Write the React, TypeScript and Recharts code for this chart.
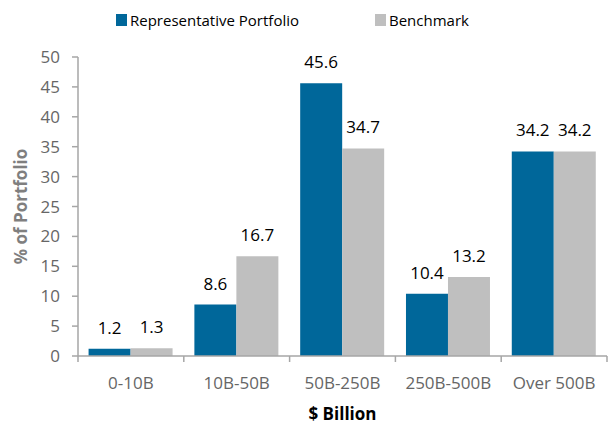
import React from 'react';
import { BarChart, Bar, XAxis, YAxis, LabelList } from 'recharts';

const categories = ['0-10B', '10B-50B', '50B-250B', '250B-500B', 'Over 500B'];
const portfolio = [1.2, 8.6, 45.6, 10.4, 34.2];
const benchmark = [1.3, 16.7, 34.7, 13.2, 34.2];
const yTicks = [0, 5, 10, 15, 20, 25, 30, 35, 40, 45, 50];

const data = categories.map((name, i) => ({ name, portfolio: portfolio[i], benchmark: benchmark[i] }));

const BLUE = '#00679A';
const GRAY = '#BFBFBF';
const AXIS = '#A6A6A6';
const FONT = '"Open Sans", sans-serif';

// x ticks sit on the category boundaries, not the centres
const CategoryTick = (props: any) => {
  const { x, y, payload, index, visibleTicksCount } = props;
  const half = payload?.offset || 52.9;
  const last = index === visibleTicksCount - 1;
  return (
    <g>
      <line x1={x - half} x2={x - half} y1={y - 21} y2={y - 15} stroke={AXIS} strokeWidth={1.5} />
      {last && <line x1={x + half} x2={x + half} y1={y - 21} y2={y - 15} stroke={AXIS} strokeWidth={1.5} />}
      <text x={x} y={y} dy="0.71em" textAnchor="middle" fill="#666" fontSize={17} fontFamily={FONT}>
        {payload.value}
      </text>
    </g>
  );
};

const LegendItem = ({ color, label }: { color: string; label: string }) => (
  <div style={{ display: 'flex', alignItems: 'center' }}>
    <span style={{ width: 11, height: 12, background: color, marginRight: 3, display: 'inline-block' }} />
    <span>{label}</span>
  </div>
);

export default function App() {
  return (
    <div style={{ position: 'absolute', left: 0, top: 0, width: 616, height: 426, background: '#fff', fontFamily: FONT }}>
      <div
        style={{
          position: 'absolute',
          top: 9,
          left: 116,
          display: 'flex',
          gap: 76,
          fontSize: 15,
          color: '#000',
          lineHeight: '22px',
        }}
      >
        <LegendItem color={BLUE} label="Representative Portfolio" />
        <LegendItem color={GRAY} label="Benchmark" />
      </div>
      <BarChart
        width={616}
        height={426}
        data={data}
        margin={{ top: 57, right: 9, bottom: 0, left: 0 }}
        barCategoryGap="10%"
        barGap={0}
      >
        <XAxis
          dataKey="name"
          height={70}
          stroke={AXIS}
          strokeWidth={1.5}
          tickLine={false}
          tickSize={0}
          tickMargin={21}
          tick={<CategoryTick />}
          interval={0}
          label={{
            value: '$ Billion',
            position: 'insideBottom',
            offset: 6,
            fill: '#000',
            fontSize: 17,
            fontWeight: 700,
            fontFamily: FONT,
          }}
        />
        <YAxis
          width={78}
          domain={[0, 50]}
          ticks={yTicks}
          interval={0}
          stroke={AXIS}
          strokeWidth={1.5}
          tickSize={6}
          tickMargin={12}
          tick={{ fill: '#666', fontSize: 17, fontFamily: FONT }}
          label={{
            value: '% of Portfolio',
            angle: -90,
            position: 'center',
            dx: -18,
            fill: '#7F7F7F',
            fontSize: 17,
            fontWeight: 700,
            fontFamily: FONT,
          }}
        />
        <Bar dataKey="portfolio" fill={BLUE} isAnimationActive={false}>
          <LabelList dataKey="portfolio" position="top" offset={15} fill="#000" fontSize={17} fontFamily={FONT} />
        </Bar>
        <Bar dataKey="benchmark" fill={GRAY} isAnimationActive={false}>
          <LabelList dataKey="benchmark" position="top" offset={15} fill="#000" fontSize={17} fontFamily={FONT} />
        </Bar>
      </BarChart>
    </div>
  );
}
